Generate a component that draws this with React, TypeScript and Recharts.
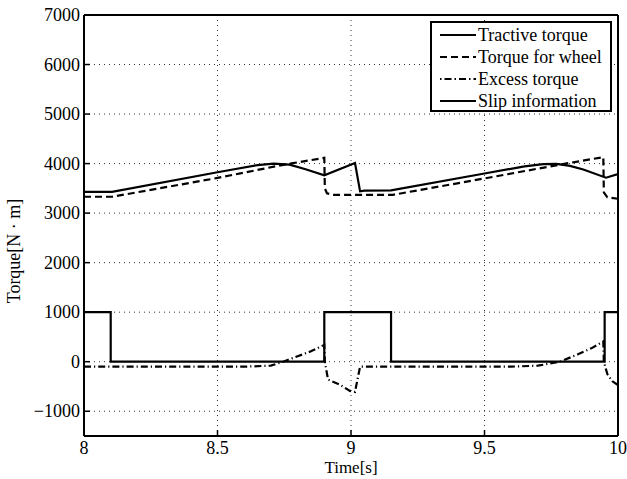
import { LineChart, Line, XAxis, YAxis, CartesianGrid } from "recharts";

const xTicks = [8, 8.5, 9, 9.5, 10];
const yTicks = [-1000, 0, 1000, 2000, 3000, 4000, 5000, 6000, 7000];

const tractiveTime = [8.0, 8.105, 8.5, 8.65, 8.71, 8.77, 8.83, 8.9, 9.015, 9.034, 9.05, 9.15, 9.5, 9.65, 9.72, 9.77, 9.82, 9.87, 9.955, 10];
const tractiveValue = [3430, 3430, 3825, 3970, 4000, 3980, 3885, 3765, 4010, 3440, 3455, 3460, 3800, 3945, 3990, 3995, 3955, 3880, 3715, 3790];

const wheelTime = [8.0, 8.105, 8.5, 8.746, 8.9, 8.902, 8.91, 8.93, 9.157, 9.5, 9.783, 9.945, 9.947, 9.96, 10];
const wheelValue = [3330, 3330, 3710, 3975, 4115, 3500, 3400, 3370, 3370, 3700, 3980, 4130, 3420, 3320, 3290];

const excessTime = [8.0, 8.6, 8.7, 8.746, 8.8, 8.85, 8.9, 8.902, 8.914, 8.959, 8.996, 9.015, 9.034, 9.15, 9.6, 9.7, 9.783, 9.85, 9.9, 9.945, 9.947, 9.96, 9.98, 10];
const excessValue = [-100, -100, -80, 0, 110, 210, 340, 0, -360, -465, -590, -610, -100, -100, -100, -80, 0, 150, 270, 410, 0, -250, -400, -470];

const slipTime = [8.0, 8.1, 8.1, 8.9, 8.9, 9.15, 9.15, 9.95, 9.95, 10];
const slipValue = [1000, 1000, 0, 0, 1000, 1000, 0, 0, 1000, 1000];

const toPoints = (t: number[], v: number[]) => t.map((x, i) => ({ x, y: v[i] }));

const tractive = toPoints(tractiveTime, tractiveValue);
const wheel = toPoints(wheelTime, wheelValue);
const excess = toPoints(excessTime, excessValue);
const slip = toPoints(slipTime, slipValue);

const FONT = "'Liberation Serif', 'Times New Roman', serif";

const fmt = (v: number) => (v < 0 ? `\u2212${Math.abs(v)}` : `${v}`);

const LeftTick = (props: any) => {
  const { x, y, payload } = props;
  return (
    <g>
      <line x1={x + 4} x2={x + 10} y1={y} y2={y} stroke="#000" strokeWidth={1.5} />
      <text x={x} y={y + 6} textAnchor="end" fontSize={18} fontFamily={FONT} fill="#000">
        {fmt(payload.value)}
      </text>
    </g>
  );
};

const RightTick = (props: any) => {
  const { x, y } = props;
  return <line x1={x - 6} x2={x} y1={y} y2={y} stroke="#000" strokeWidth={1.5} />;
};

const BottomTick = (props: any) => {
  const { x, y, payload } = props;
  return (
    <g>
      <line x1={x} x2={x} y1={y - 6} y2={y} stroke="#000" strokeWidth={1.5} />
      <text x={x} y={y + 18} textAnchor="middle" fontSize={18} fontFamily={FONT} fill="#000">
        {payload.value}
      </text>
    </g>
  );
};

const TopTick = (props: any) => {
  const { x, y } = props;
  return <line x1={x} x2={x} y1={y} y2={y + 6} stroke="#000" strokeWidth={1.5} />;
};

const legendItems = [
  { name: "Tractive torque", dash: undefined },
  { name: "Torque for wheel", dash: "7 4" },
  { name: "Excess torque", dash: "1.5 3 7 3" },
  { name: "Slip information", dash: undefined },
];

export default function App() {
  return (
    <div style={{ position: "absolute", left: 0, top: 0, width: 627, height: 479, background: "#fff" }}>
      <LineChart width={627} height={479} margin={{ top: 0, right: 0, bottom: 0, left: 0 }}>
        <CartesianGrid stroke="#333" strokeDasharray="1 4" strokeWidth={1} />
        <XAxis
          type="number"
          dataKey="x"
          domain={[8, 10]}
          ticks={xTicks}
          height={43}
          tickSize={0}
          tickMargin={0}
          tick={<BottomTick />}
          axisLine={{ stroke: "#000", strokeWidth: 2 }}
          allowDataOverflow
        />
        <XAxis
          xAxisId="top"
          orientation="top"
          type="number"
          dataKey="x"
          domain={[8, 10]}
          ticks={xTicks}
          height={15}
          tickSize={0}
          tickMargin={0}
          tick={<TopTick />}
          axisLine={{ stroke: "#000", strokeWidth: 2 }}
        />
        <YAxis
          type="number"
          domain={[-1500, 7000]}
          ticks={yTicks}
          width={84}
          tickSize={0}
          tickMargin={4}
          tick={<LeftTick />}
          axisLine={{ stroke: "#000", strokeWidth: 2 }}
          allowDataOverflow
        />
        <YAxis
          yAxisId="right"
          orientation="right"
          type="number"
          domain={[-1500, 7000]}
          ticks={yTicks}
          width={9}
          tickSize={0}
          tickMargin={0}
          tick={<RightTick />}
          axisLine={{ stroke: "#000", strokeWidth: 2 }}
        />
        <Line data={excess} dataKey="y" type="linear" stroke="#000" strokeWidth={2.2} strokeDasharray="7 3 1.2 3" dot={false} isAnimationActive={false} />
        <Line data={wheel} dataKey="y" type="linear" stroke="#000" strokeWidth={2.2} strokeDasharray="7 4" dot={false} isAnimationActive={false} />
        <Line data={tractive} dataKey="y" type="linear" stroke="#000" strokeWidth={2.2} dot={false} isAnimationActive={false} />
        <Line data={slip} dataKey="y" type="linear" stroke="#000" strokeWidth={2.2} dot={false} isAnimationActive={false} />
        <text x={351} y={473} textAnchor="middle" fontSize={17} fontFamily={FONT} fill="#000">
          Time[s]
        </text>
        <text
          x={20}
          y={251}
          textAnchor="middle"
          fontSize={18}
          fontFamily={FONT}
          fill="#000"
          transform="rotate(-90 20 251)"
        >
          Torque[N · m]
        </text>
      </LineChart>
      <div
        style={{
          position: "absolute",
          left: 430,
          top: 21,
          width: 178,
          height: 86,
          border: "2px solid #000",
          background: "#fff",
          fontFamily: FONT,
          fontSize: 18,
          padding: "1px 0 0 0",
        }}
      >
        {legendItems.map((it) => (
          <div key={it.name} style={{ display: "flex", alignItems: "center", height: 22, lineHeight: "22px" }}>
            <svg width={46} height={22} style={{ flex: "none" }}>
              <line x1={8} x2={44} y1={11} y2={11} stroke="#000" strokeWidth={2} strokeDasharray={it.dash} />
            </svg>
            <span style={{ whiteSpace: "nowrap" }}>{it.name}</span>
          </div>
        ))}
      </div>
    </div>
  );
}
